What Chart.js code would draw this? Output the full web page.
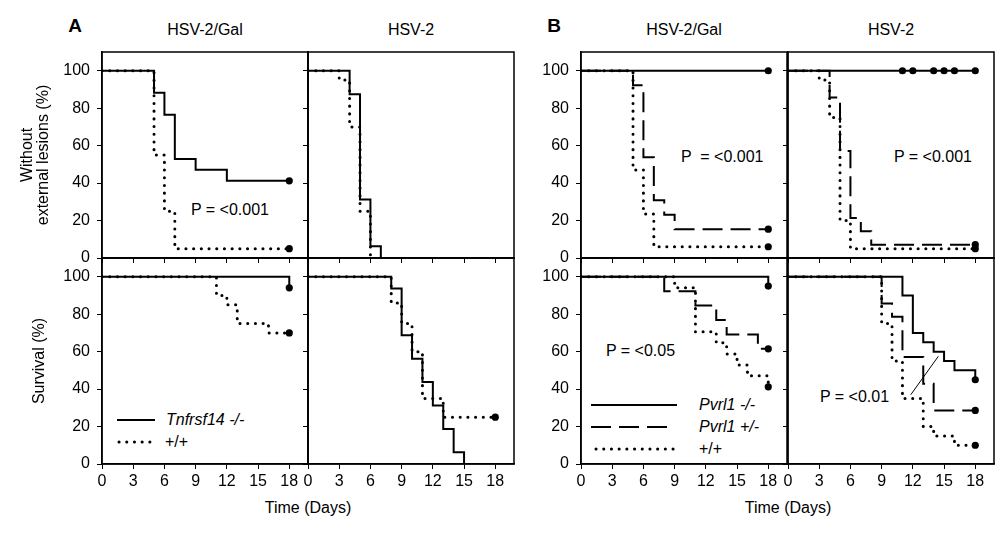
<!DOCTYPE html>
<html>
<head>
<meta charset="utf-8">
<script src="https://cdn.jsdelivr.net/npm/chart.js@4.4.0/dist/chart.umd.min.js"></script>
<style>
  body { margin: 0; background: #fff; width: 1003px; height: 538px; position: relative; overflow: hidden;
         font-family: "Liberation Sans", Arial, sans-serif; color: #000; }
  .box { position: absolute; }
  .t { position: absolute; font-size: 16px; white-space: pre; line-height: 1; }
  .c { transform: translate(-50%, -50%); }
  .l { transform: translateY(-50%); }
  .i { font-style: italic; }
  svg { position: absolute; left: 0; top: 0; }
</style>
</head>
<body>

<div class="t c" style="left:75px;top:25px;font-size:19px;font-weight:bold">A</div>
<div class="t c" style="left:554px;top:25px;font-size:19px;font-weight:bold">B</div>

<div class="t c" style="left:205px;top:30px">HSV-2/Gal</div>
<div class="t c" style="left:411px;top:30px">HSV-2</div>
<div class="t c" style="left:684px;top:30px">HSV-2/Gal</div>
<div class="t c" style="left:891px;top:30px">HSV-2</div>

<div class="t c" style="left:308px;top:508px">Time (Days)</div>
<div class="t c" style="left:788px;top:508px">Time (Days)</div>

<div class="t l" style="left:191px;top:210px">P = &lt;0.001</div>
<div class="t l" style="left:681px;top:157px">P  = &lt;0.001</div>
<div class="t l" style="left:894px;top:157px">P = &lt;0.001</div>
<div class="t l" style="left:606px;top:351px">P = &lt;0.05</div>
<div class="t l" style="left:820px;top:397px">P = &lt;0.01</div>

<div class="t l i" style="left:166px;top:420px">Tnfrsf14 -/-</div>
<div class="t l" style="left:165px;top:442px">+/+</div>
<div class="t l i" style="left:699px;top:405px">Pvrl1 -/-</div>
<div class="t l i" style="left:699px;top:427px">Pvrl1 +/-</div>
<div class="t l" style="left:699px;top:449px">+/+</div>

<svg width="1003" height="538">
  <line x1="117" y1="420" x2="155" y2="420" stroke="#000" stroke-width="2"/>
  <line x1="119" y1="442" x2="151" y2="442" stroke="#000" stroke-width="3" stroke-linecap="round" stroke-dasharray="0.1 7.6"/>
  <line x1="591" y1="405" x2="677" y2="405" stroke="#000" stroke-width="2"/>
  <line x1="591" y1="427" x2="670" y2="427" stroke="#000" stroke-width="2" stroke-dasharray="20 8"/>
  <line x1="596" y1="449" x2="678" y2="449" stroke="#000" stroke-width="3" stroke-linecap="round" stroke-dasharray="0.1 7.6"/>
</svg>

<script>
const dayTicks = [0, 3, 6, 9, 12, 15, 18];
const pctTicks = [0, 20, 40, 60, 80, 100];

// A, HSV-2/Gal, without lesions
const aGalLesKoDays = [0, 5, 6, 7, 9, 12, 18];
const aGalLesKoPct = [100, 88.2, 76.5, 52.9, 47.1, 41.2, 41.2];
const aGalLesKoCens = [18];
const aGalLesWtDays = [0, 5, 6, 7, 18];
const aGalLesWtPct = [100, 55, 25, 5, 5];
const aGalLesWtCens = [18];

// A, HSV-2, without lesions
const aHsvLesKoDays = [0, 4, 5, 6, 7];
const aHsvLesKoPct = [100, 87.5, 31.3, 6.3, 0];
const aHsvLesWtDays = [0, 3, 4, 5, 6];
const aHsvLesWtPct = [100, 95, 70, 25, 0];

// A, HSV-2/Gal, survival
const aGalSurKoDays = [0, 18];
const aGalSurKoPct = [100, 94.1];
const aGalSurKoCens = [18];
const aGalSurWtDays = [0, 11, 12, 13, 16, 18];
const aGalSurWtPct = [100, 90, 85, 75, 70, 70];
const aGalSurWtCens = [18];

// A, HSV-2, survival
const aHsvSurKoDays = [0, 8, 9, 10, 11, 12, 13, 14, 15];
const aHsvSurKoPct = [100, 93.75, 68.75, 56.25, 43.75, 31.25, 18.75, 6.25, 0];
const aHsvSurWtDays = [0, 8, 9, 10, 11, 13, 18];
const aHsvSurWtPct = [100, 86, 75, 60, 35, 25, 25];
const aHsvSurWtCens = [18];

// B, HSV-2/Gal, without lesions
const bGalLesKoDays = [0, 18];
const bGalLesKoPct = [100, 100];
const bGalLesKoCens = [18];
const bGalLesHetDays = [0, 5, 6, 7, 8, 9, 18];
const bGalLesHetPct = [100, 92.3, 53.8, 30.8, 23.1, 15.4, 15.4];
const bGalLesHetCens = [18];
const bGalLesWtDays = [0, 5, 6, 7, 18];
const bGalLesWtPct = [100, 47, 23.5, 6, 6];
const bGalLesWtCens = [18];

// B, HSV-2, without lesions
const bHsvLesKoDays = [0, 18];
const bHsvLesKoPct = [100, 100];
const bHsvLesKoCens = [11, 12, 14, 15, 16, 18];
const bHsvLesHetDays = [0, 4, 5, 6, 7, 8, 18];
const bHsvLesHetPct = [100, 85.7, 57.1, 21.4, 14.3, 7.1, 7.1];
const bHsvLesHetCens = [18];
const bHsvLesWtDays = [0, 3, 4, 5, 6, 18];
const bHsvLesWtPct = [100, 95, 75, 20, 5, 5];
const bHsvLesWtCens = [18];

// B, HSV-2/Gal, survival
const bGalSurKoDays = [0, 18];
const bGalSurKoPct = [100, 95];
const bGalSurKoCens = [18];
const bGalSurHetDays = [0, 8, 11, 13, 14, 17, 18];
const bGalSurHetPct = [100, 92.3, 84.6, 76.9, 69.2, 61.5, 61.5];
const bGalSurHetCens = [18];
const bGalSurWtDays = [0, 9, 11, 13, 14, 15, 16, 18];
const bGalSurWtPct = [100, 94.1, 70.6, 64.7, 58.8, 52.9, 47.1, 41.2];
const bGalSurWtCens = [18];

// B, HSV-2, survival
const bHsvSurKoDays = [0, 11, 12, 13, 14, 15, 16, 18];
const bHsvSurKoPct = [100, 90, 70, 65, 60, 55, 50, 45];
const bHsvSurKoCens = [18];
const bHsvSurHetDays = [0, 9, 10, 11, 13, 14, 18];
const bHsvSurHetPct = [100, 85.7, 78.6, 57.1, 42.9, 28.6, 28.6];
const bHsvSurHetCens = [18];
const bHsvSurWtDays = [0, 9, 10, 11, 13, 14, 16, 18];
const bHsvSurWtPct = [100, 75, 55, 35, 20, 15, 10, 10];
const bHsvSurWtCens = [18];
const pointerDays = [11.8, 14.45];
const pointerPct = [37, 57.5];

Chart.defaults.font.family = '"Liberation Sans", Arial, sans-serif';
Chart.defaults.font.size = 16;
Chart.defaults.color = '#000';

const colLeft = [102, 308, 581, 788];
const rowTop = [52, 258];
const PW = 206, PH = 206;

const lineStyles = {
  solid: { borderDash: [], borderWidth: 2 },
  dashed: { borderDash: [20, 8], borderWidth: 2 },
  dotted: { borderDash: [0.1, 7.6], borderWidth: 3, borderCapStyle: 'round' }
};

function valueAt(days, pct, d) {
  let v = pct[0];
  days.forEach((day, i) => { if (day <= d) v = pct[i]; });
  return v;
}

function curve(days, pct, cens, style) {
  return { days, pct, cens: cens || [], style };
}

const framePlugin = {
  id: 'frame',
  afterDatasetsDraw(chart) {
    const { ctx, chartArea: a } = chart;
    ctx.save();
    ctx.strokeStyle = '#000';
    ctx.lineWidth = 1.5;
    ctx.strokeRect(a.left, a.top, a.right - a.left, a.bottom - a.top);
    ctx.restore();
  }
};

function panel(col, row, curves, yTitle, titlePad) {
  const mL = col === 0 ? 102 : 60, mR = 20, mT = 20, mB = 60;
  const div = document.createElement('div');
  div.className = 'box';
  div.style.left = (colLeft[col] - mL) + 'px';
  div.style.top = (rowTop[row] - mT) + 'px';
  const canvas = document.createElement('canvas');
  canvas.width = PW + mL + mR;
  canvas.height = PH + mT + mB;
  div.appendChild(canvas);
  document.body.appendChild(div);

  const datasets = [];
  for (const c of curves) {
    // Kaplan-Meier step: horizontal first, then drop at each event day
    datasets.push(Object.assign({
      data: c.days.map((d, i) => ({ x: d, y: c.pct[i] })),
      showLine: true,
      stepped: 'before',
      pointRadius: 0,
      borderColor: '#000',
      fill: false
    }, lineStyles[c.style]));
    if (c.cens.length) {
      datasets.push({
        data: c.cens.map(d => ({ x: d, y: valueAt(c.days, c.pct, d) })),
        showLine: false,
        pointRadius: 3.6,
        pointBackgroundColor: '#000',
        pointBorderWidth: 0
      });
    }
  }
  return { canvas, datasets, mL, mB, yTitle, titlePad, col, row };
}

function draw(p, extra) {
  const ds = extra ? p.datasets.concat(extra) : p.datasets;
  new Chart(p.canvas, {
    type: 'scatter',
    data: { datasets: ds },
    plugins: [framePlugin],
    options: {
      responsive: false,
      animation: false,
      layout: { padding: { left: 0, right: 20, top: 20, bottom: 0 } },
      plugins: { legend: { display: false }, tooltip: { enabled: false } },
      scales: {
        x: {
          type: 'linear', min: 0, max: 19.8,
          afterBuildTicks: s => { s.ticks = dayTicks.map(v => ({ value: v })); },
          afterFit: s => { s.height = p.mB; },
          ticks: { display: p.row === 1, autoSkip: false, maxRotation: 0, padding: 3 },
          grid: { display: true, drawOnChartArea: false, drawTicks: true, tickLength: 5, color: '#000', lineWidth: 1 },
          border: { display: true, color: '#000', width: 1.5 }
        },
        y: {
          type: 'linear', min: 0, max: 110,
          afterBuildTicks: s => { s.ticks = pctTicks.map(v => ({ value: v })); },
          afterFit: s => { s.width = p.mL; },
          ticks: { display: p.col % 2 === 0, padding: 7 },
          grid: { display: true, drawOnChartArea: false, drawTicks: true, tickLength: 5, color: '#000', lineWidth: 1 },
          border: { display: true, color: '#000', width: 1.5 },
          title: {
            display: !!p.yTitle,
            text: p.yTitle || '',
            font: { size: 16, lineHeight: 0.95 },
            padding: { top: p.titlePad || 0, bottom: 0 }
          }
        }
      }
    }
  });
}

draw(panel(0, 0, [
  curve(aGalLesKoDays, aGalLesKoPct, aGalLesKoCens, 'solid'),
  curve(aGalLesWtDays, aGalLesWtPct, aGalLesWtCens, 'dotted')
], ['Without', 'external lesions (%)'], 20.4));

draw(panel(1, 0, [
  curve(aHsvLesKoDays, aHsvLesKoPct, null, 'solid'),
  curve(aHsvLesWtDays, aHsvLesWtPct, null, 'dotted')
]));

draw(panel(0, 1, [
  curve(aGalSurKoDays, aGalSurKoPct, aGalSurKoCens, 'solid'),
  curve(aGalSurWtDays, aGalSurWtPct, aGalSurWtCens, 'dotted')
], 'Survival (%)', 32.4));

draw(panel(1, 1, [
  curve(aHsvSurKoDays, aHsvSurKoPct, null, 'solid'),
  curve(aHsvSurWtDays, aHsvSurWtPct, aHsvSurWtCens, 'dotted')
]));

draw(panel(2, 0, [
  curve(bGalLesKoDays, bGalLesKoPct, bGalLesKoCens, 'solid'),
  curve(bGalLesHetDays, bGalLesHetPct, bGalLesHetCens, 'dashed'),
  curve(bGalLesWtDays, bGalLesWtPct, bGalLesWtCens, 'dotted')
]));

draw(panel(3, 0, [
  curve(bHsvLesKoDays, bHsvLesKoPct, bHsvLesKoCens, 'solid'),
  curve(bHsvLesHetDays, bHsvLesHetPct, bHsvLesHetCens, 'dashed'),
  curve(bHsvLesWtDays, bHsvLesWtPct, bHsvLesWtCens, 'dotted')
]));

draw(panel(2, 1, [
  curve(bGalSurKoDays, bGalSurKoPct, bGalSurKoCens, 'solid'),
  curve(bGalSurHetDays, bGalSurHetPct, bGalSurHetCens, 'dashed'),
  curve(bGalSurWtDays, bGalSurWtPct, bGalSurWtCens, 'dotted')
]));

draw(panel(3, 1, [
  curve(bHsvSurKoDays, bHsvSurKoPct, bHsvSurKoCens, 'solid'),
  curve(bHsvSurHetDays, bHsvSurHetPct, bHsvSurHetCens, 'dashed'),
  curve(bHsvSurWtDays, bHsvSurWtPct, bHsvSurWtCens, 'dotted')
]), [{
  data: pointerDays.map((d, i) => ({ x: d, y: pointerPct[i] })),
  showLine: true,
  pointRadius: 0,
  borderColor: '#000',
  borderWidth: 1
}]);
</script>
</body>
</html>
